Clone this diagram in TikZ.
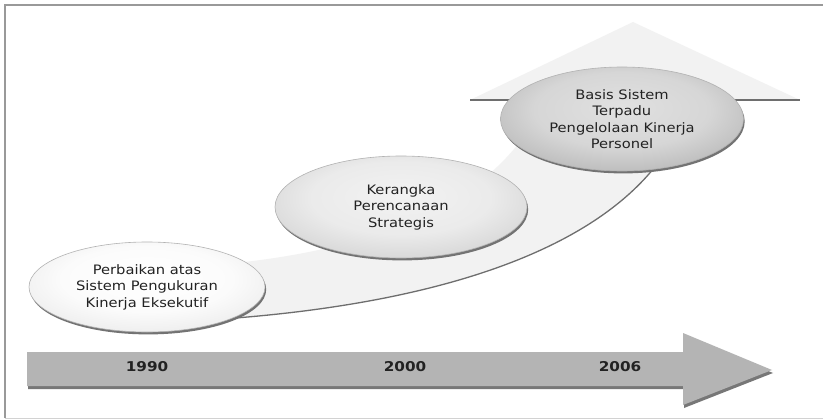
\documentclass[tikz,border=0pt]{standalone}
\usepackage{fontspec}
\newfontfamily\lblfont[FakeStretch=1.13]{DejaVu Sans}
\usetikzlibrary{shapes.geometric,shadows}

% radial fills for the three stage ellipses (light -> dark)
\pgfdeclareradialshading{ellA}{\pgfpoint{0bp}{6bp}}{gray(0bp)=(1); gray(18bp)=(0.985); gray(45bp)=(0.86); gray(70bp)=(0.78)}
\pgfdeclareradialshading{ellB}{\pgfpoint{0bp}{6bp}}{gray(0bp)=(0.95); gray(18bp)=(0.92); gray(45bp)=(0.74); gray(70bp)=(0.66)}
\pgfdeclareradialshading{ellC}{\pgfpoint{0bp}{6bp}}{gray(0bp)=(0.88); gray(18bp)=(0.84); gray(45bp)=(0.6); gray(70bp)=(0.52)}

\definecolor{framegray}{HTML}{999999}
\definecolor{bandgray}{HTML}{F2F2F2}
\definecolor{edgegray}{HTML}{6E6E6E}
\definecolor{bargray}{HTML}{B4B4B4}
\definecolor{barshadow}{HTML}{777777}
\definecolor{inkgray}{HTML}{222222}

\begin{document}
\begin{tikzpicture}[x=1pt,y=-1pt,
  stage/.style={ellipse, inner sep=0pt, draw=gray!60, line width=0.6pt, shade,
    align=center, font=\lblfont\fontsize{13}{16.5}\selectfont, text=inkgray,
    drop shadow={shadow xshift=1.2pt, shadow yshift=-2.4pt, fill=black!55, opacity=1}},
  year/.style={font=\lblfont\bfseries\fontsize{13.5}{16}\selectfont, text=inkgray}]

\useasboundingbox (0,0) rectangle (823,420);
\fill[white] (0,0) rectangle (823,420);

% outer frame
\draw[framegray, line width=1.6pt] (5,418) -- (5,5) -- (823,5);
\draw[gray!35, line width=1pt] (5,418) -- (823,418);

% rising band ending in an upward arrowhead
\fill[bandgray] (170,322) .. controls (450,310) and (650,240) .. (690,100)
  -- (800,100) -- (633,22) -- (470,100) -- (545,100)
  .. controls (500,200) and (380,258) .. (170,268) -- cycle;
\draw[edgegray, line width=1.3pt] (470,100) -- (800,100);
\draw[edgegray, line width=1.3pt] (170,322) .. controls (450,310) and (650,240) .. (690,100);

% stages
\node[stage, shading=ellA, minimum width=236pt, minimum height=90pt] (e1) at (147,287)
  {Perbaikan atas\\Sistem Pengukuran\\Kinerja Eksekutif};
\node[stage, shading=ellB, minimum width=252pt, minimum height=102pt] (e2) at (401,207)
  {Kerangka\\Perencanaan\\Strategis};
\node[stage, shading=ellC, minimum width=243pt, minimum height=104pt] (e3) at (622,119)
  {Basis Sistem\\Terpadu\\Pengelolaan Kinerja\\Personel};

% timeline arrow with its shadow
\fill[barshadow] (28,355) -- (684,355) -- (684,336) -- (773,373) -- (684,408)
  -- (684,389) -- (28,389) -- cycle;
\fill[bargray] (27,352) -- (683,352) -- (683,333) -- (772,370) -- (683,405)
  -- (683,386) -- (27,386) -- cycle;

\node[year] (y1) at (147,367) {1990};
\node[year] (y2) at (405,367) {2000};
\node[year] (y3) at (620,367) {2006};
\end{tikzpicture}
\end{document}
